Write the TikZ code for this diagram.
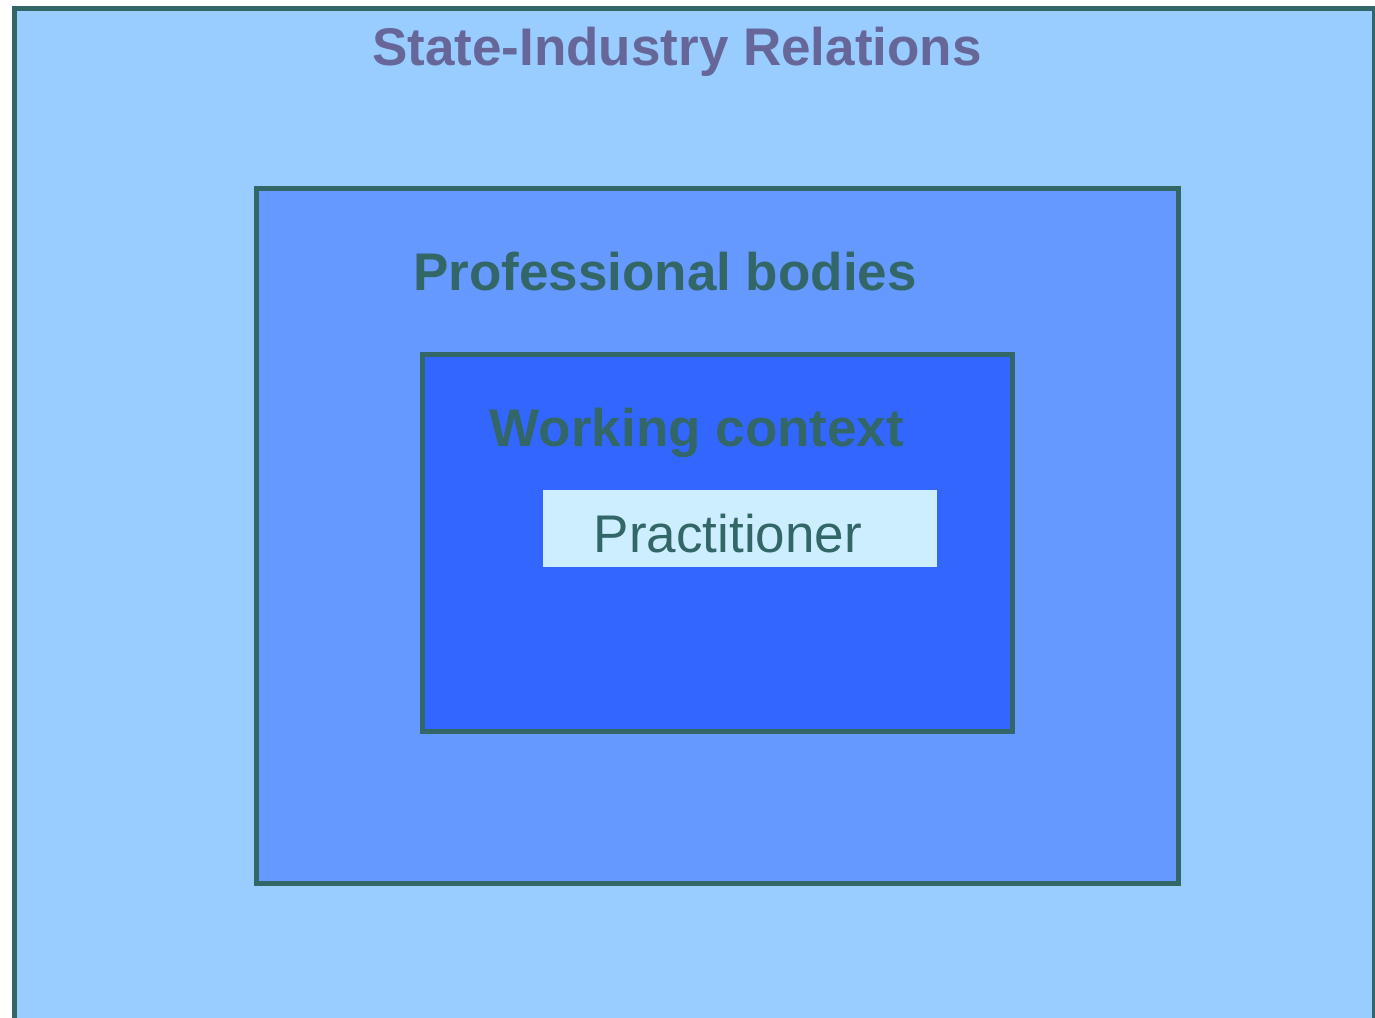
\documentclass[tikz,border=0pt]{standalone}
\usepackage{fontspec}
\setmainfont{Liberation Sans}
\usepackage{tikz}
\usetikzlibrary{positioning}
\definecolor{edgegreen}{HTML}{336666}
\definecolor{titlepurple}{HTML}{666699}
\definecolor{statefill}{HTML}{99CCFF}
\definecolor{proffill}{HTML}{6699FF}
\definecolor{workfill}{HTML}{3366FF}
\definecolor{practfill}{HTML}{CCEEFF}

\begin{document}
\begin{tikzpicture}[x=1pt,y=-1pt]
		\tikzstyle{layer}=[rectangle,draw=edgegreen,line width=5pt,inner sep=0pt]
		\tikzstyle{heading}=[inner sep=0pt,anchor=base,text=edgegreen,font=\fontsize{53}{60}\selectfont\bfseries]
		\tikzstyle{core}=[rectangle,fill=practfill,inner sep=0pt,minimum width=394pt,minimum height=76.5pt]
		
		\useasboundingbox (0,0) rectangle (1375,1017);
		\clip (0,0) rectangle (1375,1017);
		
		\node[layer,fill=statefill,minimum width=1360pt,minimum height=1022pt] (state) at (694,519) {};
		\node[layer,fill=proffill,minimum width=922.5pt,minimum height=695.5pt] (prof) at (717.25,535.75) {};
		\node[layer,fill=workfill,minimum width=590pt,minimum height=377.5pt] (work) at (717.5,542.75) {};
		\node[core] (pract) at (740,528.25) {};
		
		\node[heading,text=titlepurple] (statelabel) at (677,65) {State-Industry Relations};
		\node[heading] (proflabel) at (665,290) {Professional bodies};
		\node[heading] (worklabel) at (697,446) {Working context};
		\node[heading,font=\fontsize{53}{60}\selectfont] (practlabel) at (728,552) {Practitioner};
		
	\end{tikzpicture}
\end{document}
